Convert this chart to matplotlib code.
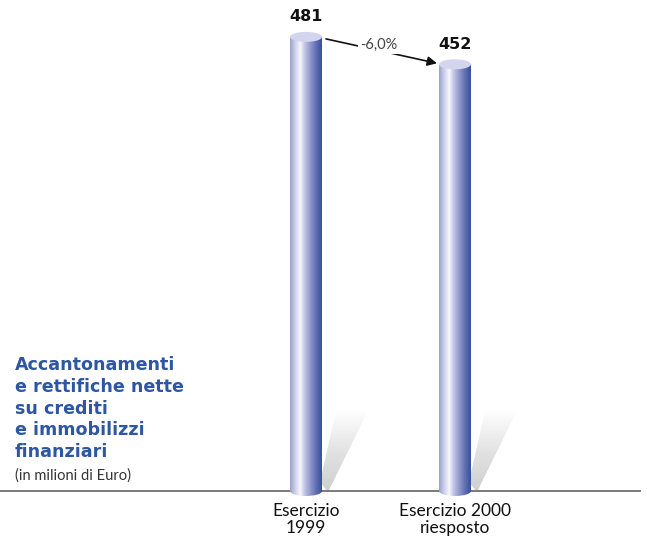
import numpy as np
import matplotlib.pyplot as plt
from matplotlib.colors import LinearSegmentedColormap
from matplotlib.patches import Ellipse, Polygon, Rectangle

# --- data ---
categories = ["Esercizio\n1999", "Esercizio 2000\nriesposto"]
values = [481, 452]
change_label = "-6,0%"
title_lines = "Accantonamenti\ne rettifiche nette\nsu crediti\ne immobilizzi\nfinanziari"
unit_label = "(in milioni di Euro)"

blue = "#2d56a3"
bar_cmap = LinearSegmentedColormap.from_list(
    "cyl", [(0.0, "#9aa0ce"), (0.15, "#c9cce9"), (0.32, "#f7f7fd"),
            (0.45, "#c4c8e6"), (0.62, "#969ccd"), (0.8, "#6672b6"),
            (1.0, "#34509f")])
shadow_cmap = LinearSegmentedColormap.from_list(
    "shd", [(0, (0.55, 0.55, 0.55, 0.0)), (0.5, (0.55, 0.55, 0.55, 0.25)),
            (1, (0.55, 0.55, 0.55, 0.42))])

fig = plt.figure(figsize=(6.47, 5.38), dpi=100)
ax = fig.add_axes([0, 0, 1, 1])
ax.set_xlim(-2.054, 2.289)
ax.set_ylim(-49.8, 520.1)
ax.axis("off")

px_x = 1 / 149.0     # one pixel in x data units
px_y = 1 / 0.944     # one pixel in y data units
w = 32 * px_x
eh = 10 * px_y       # ellipse height

x = np.arange(len(values))
grad = np.linspace(0, 1, 256).reshape(1, -1)

for xi, v in zip(x, values):
    left, right = xi - w / 2, xi + w / 2
    # shadow
    shd = Polygon([(right - 2 * px_x, 9 * px_y), (right + 6 * px_x, -1 * px_y),
                   (right + 46 * px_x, 80 * px_y), (right + 14 * px_x, 80 * px_y)],
                  closed=True, facecolor="none", edgecolor="none")
    ax.add_patch(shd)
    sim = ax.imshow(np.linspace(0, 1, 256).reshape(-1, 1), cmap=shadow_cmap,
                    extent=[right - 2 * px_x, right + 46 * px_x, -1 * px_y, 80 * px_y],
                    aspect="auto", zorder=1, origin="upper")
    sim.set_clip_path(shd)
    # body
    body = Rectangle((left, 0), w, v, facecolor="none", edgecolor="none")
    ax.add_patch(body)
    bottom = Ellipse((xi, 0), w, eh, facecolor="none", edgecolor="none")
    ax.add_patch(bottom)
    im = ax.imshow(grad, cmap=bar_cmap, extent=[left, right, 0, v],
                   aspect="auto", zorder=2)
    im.set_clip_path(body)
    im2 = ax.imshow(grad, cmap=bar_cmap, extent=[left, right, -eh / 2, 0],
                    aspect="auto", zorder=2)
    im2.set_clip_path(bottom)
    # top cap
    ax.add_patch(Ellipse((xi, v), w, eh, facecolor="#d2d5ed",
                         edgecolor="none", zorder=3))
    ax.text(xi, v + 20 * px_y, str(v), ha="center", va="center",
            fontsize=11.5, fontweight="bold", family="DejaVu Sans", color="#111111")
    ax.text(xi, -12 * px_y, categories[xi], ha="center", va="top",
            fontsize=12.5, family="Lato", color="#111111", linespacing=1.1)

# baseline
ax.plot([-2.054, -2.054 + 640 * px_x], [0, 0], color="#707070", lw=1.3, zorder=1.5)

# change arrow
ax.annotate("", xy=(1 - w / 2 - 2 * px_x, values[1] + 1 * px_y),
            xytext=(w / 2 + 4 * px_x, values[0] - 2 * px_y),
            arrowprops=dict(arrowstyle="-|>", color="#111111", lw=1.2,
                            mutation_scale=14, shrinkA=0, shrinkB=0), zorder=4)
ax.text(0.5 - 2 * px_x, (values[0] + values[1]) / 2 + 6 * px_y, change_label,
        ha="center", va="center", fontsize=10.5, family="Lato", color="#444444",
        bbox=dict(facecolor="white", edgecolor="none", pad=1.5), zorder=5)

# side title
fig.text(15 / 647, 1 - 356 / 538, title_lines, ha="left", va="top",
         fontsize=12.6, fontweight="bold", family="DejaVu Sans", color=blue,
         linespacing=1.27)
fig.text(15 / 647, 1 - 468 / 538, unit_label, ha="left", va="top",
         fontsize=10.5, family="Lato", color="#333333")

fig.savefig("out.png", dpi=100)
